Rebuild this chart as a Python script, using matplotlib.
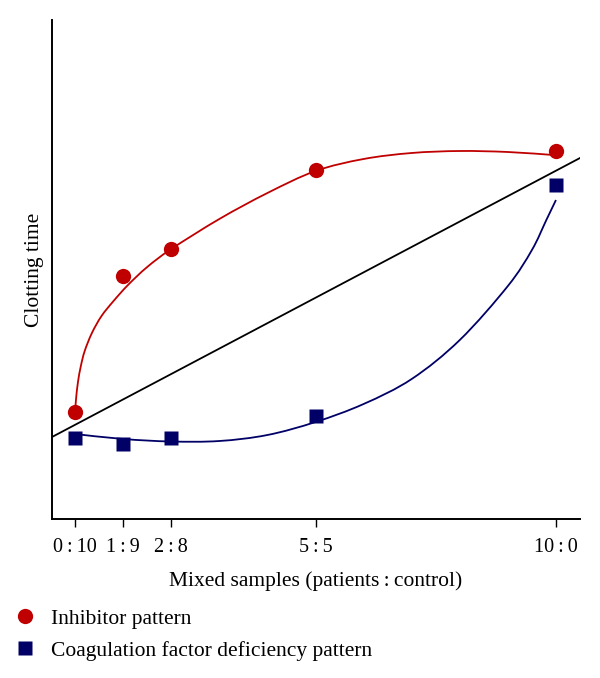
import matplotlib
matplotlib.use('Agg')
import matplotlib.pyplot as plt
from matplotlib.lines import Line2D
from matplotlib.path import Path
from matplotlib.patches import PathPatch

plt.rcParams['font.family'] = ['Liberation Serif', 'DejaVu Serif']

# Mixing ratio positions and tick labels
mix_x = [0, 1, 2, 5, 10]
tick_labels = ['0\u2009:\u200910', '1\u2009:\u20099', '2\u2009:\u20098', '5\u2009:\u20095', '10\u2009:\u20090']

# Measured points (arbitrary clotting time units)
inhibitor_y = [107, 243, 270, 349, 368]
deficiency_y = [81, 75, 81, 103.5, 334]

# Trend curves
red_curve_x = [0, 0.02, 0.06, 0.12, 0.2, 0.35, 0.55, 0.8, 1.1, 1.5, 2.0, 3.0, 4.0, 5.0,
               6.0, 7.0, 8.0, 9.0, 9.94]
red_curve_y = [107, 120, 137, 153, 168, 186, 203, 218, 234, 252, 270, 300, 326, 348,
               360, 366, 368, 367, 364]
blue_curve_x = [0, 1, 2, 3, 4, 5, 6, 7, 8, 9, 9.5, 9.8, 10.0]
blue_curve_y = [85, 80, 77.5, 78, 84, 97, 115, 140, 179, 233, 269, 299, 319]

# Reference (normal) line
ref_x = [-0.48, 10.5]
ref_y = [82, 361]

red = '#C00000'
navy = '#000066'


def smooth_path(ax, xs, ys):
    # Catmull-Rom through the points, drawn as cubic Bezier segments in display space
    pts = ax.transData.transform(list(zip(xs, ys)))
    n = len(pts)
    verts = [pts[0]]
    codes = [Path.MOVETO]
    for i in range(n - 1):
        p0 = pts[i - 1] if i > 0 else pts[i]
        p1 = pts[i]
        p2 = pts[i + 1]
        p3 = pts[i + 2] if i + 2 < n else pts[i + 1]
        verts += [p1 + (p2 - p0) / 6, p2 - (p3 - p1) / 6, p2]
        codes += [Path.CURVE4] * 3
    return Path(ax.transData.inverted().transform(verts), codes)


fig = plt.figure(figsize=(6, 6.78), dpi=100)
ax = fig.add_axes([52/600, 1 - 519/678, 528/600, 499/678])
ax.set_xlim(-0.48, 10.5)
ax.set_ylim(0, 499)

ax.plot(ref_x, ref_y, color='black', lw=1.3, zorder=2)
ax.add_patch(PathPatch(smooth_path(ax, red_curve_x, red_curve_y), fc='none', ec=red, lw=1.3, zorder=2))
ax.add_patch(PathPatch(smooth_path(ax, blue_curve_x, blue_curve_y), fc='none', ec=navy, lw=1.3, zorder=2))
ax.plot(mix_x, inhibitor_y, 'o', color=red, ms=11, mec='none', zorder=3)
ax.plot(mix_x, deficiency_y, 's', color=navy, ms=10.5, mec='none', zorder=3)

for s in ['top', 'right']:
    ax.spines[s].set_visible(False)
for s in ['left', 'bottom']:
    ax.spines[s].set_linewidth(1.4)
ax.set_yticks([])
ax.set_xticks(mix_x)
ax.set_xticklabels(tick_labels, fontsize=14.5)
ax.tick_params(axis='x', length=6, width=1, pad=8)
ax.set_xlabel('Mixed samples (patients\u2009:\u2009control)', fontsize=15.5, labelpad=10)
ax.set_ylabel('Clotting time', fontsize=15.5, labelpad=6)

handles = [
    Line2D([], [], marker='o', color=red, ls='none', ms=11, mec='none'),
    Line2D([], [], marker='s', color=navy, ls='none', ms=10.5, mec='none'),
]
fig.legend(handles, ['Inhibitor pattern', 'Coagulation factor deficiency pattern'],
           loc='upper left', bbox_to_anchor=(0.01, 1 - 600/678), frameon=False,
           fontsize=15.5, handlelength=1.0, handletextpad=0.7, labelspacing=0.55,
           borderaxespad=0)

fig.savefig('out.png', dpi=100)
